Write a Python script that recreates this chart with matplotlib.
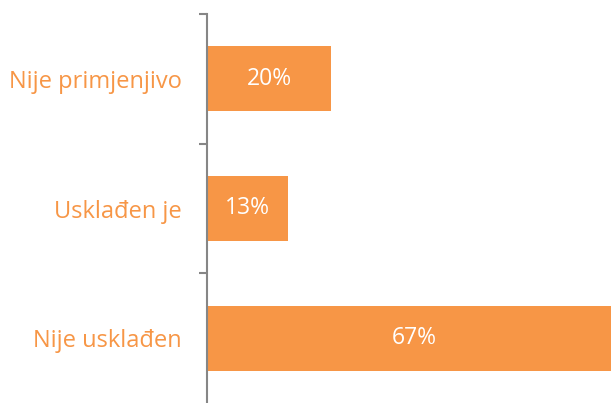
import matplotlib.pyplot as plt
import numpy as np

categories = ['Nije usklađen', 'Usklađen je', 'Nije primjenjivo']
values = [67, 13, 20]
labels = ['67%', '13%', '20%']

orange = '#F79646'
plt.rcParams['font.family'] = ['Open Sans', 'DejaVu Sans']

fig = plt.figure(figsize=(6.11, 4.03), dpi=100)
ax = fig.add_axes([207 / 611, 0, 1 - 207 / 611, 1 - 14 / 403])

y = np.arange(len(categories))
ax.barh(y, values, height=0.5, color=orange)
for yi, v, lab in zip(y, values, labels):
    ax.text(v / 2, yi, lab, ha='center', va='center', color='white', fontsize=16.5)

ax.set_xlim(0, 65.16)
ax.set_ylim(-0.5, 2.5)
ax.set_xticks([])
ax.set_yticks(y)
ax.set_yticklabels(categories, color=orange, fontsize=17)
ax.tick_params(axis='y', which='major', length=0, pad=18)
ax.set_yticks([0.5, 1.5, 2.5], minor=True)
ax.tick_params(axis='y', which='minor', length=6, width=1.5, color='#868686')

for s in ['top', 'right', 'bottom']:
    ax.spines[s].set_visible(False)
ax.spines['left'].set_color('#868686')
ax.spines['left'].set_linewidth(1.5)

fig.savefig('out.png', dpi=100)
